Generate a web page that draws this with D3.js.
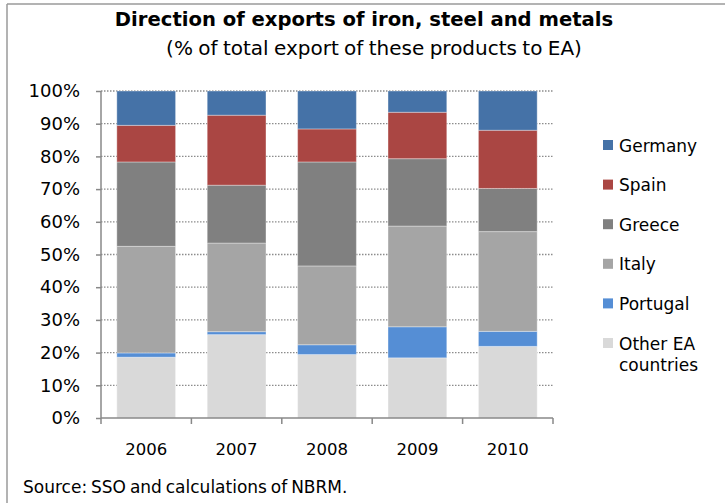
<!DOCTYPE html>
<html>
<head>
<meta charset="utf-8">
<script src="https://cdn.jsdelivr.net/npm/d3@7"></script>
<style>
  body { margin: 0; background: #fff; }
  text { font-family: "DejaVu Sans", Verdana, sans-serif; fill: #000; }
</style>
</head>
<body>
<div id="chart"></div>
<script>
// years on the x axis
var years = ["2006", "2007", "2008", "2009", "2010"];

// series, bottom to top (% of total)
var other    = [18.6, 25.5, 19.4, 18.4, 21.9];
var portugal = [1.3, 0.9, 3.0, 9.5, 4.6];
var italy    = [32.6, 27.1, 24.1, 30.8, 30.5];
var greece   = [25.8, 17.7, 31.8, 20.6, 13.2];
var spain    = [11.2, 21.4, 10.1, 14.2, 17.8];
var germany  = [10.5, 7.4, 11.6, 6.5, 12.0];

var seriesNames = ["Other EA countries", "Portugal", "Italy", "Greece", "Spain", "Germany"];
var seriesValues = [other, portugal, italy, greece, spain, germany];
var colors = ["#d9d9d9", "#558ed5", "#a5a5a5", "#808080", "#aa4643", "#4572a7"];

var yTicks = [0, 10, 20, 30, 40, 50, 60, 70, 80, 90, 100];

var svgWidth = 725, svgHeight = 503;

var svg = d3.select("#chart").append("svg")
  .attr("width", svgWidth)
  .attr("height", svgHeight);

// frame lines (top and left visible)
svg.append("line").attr("x1", 7).attr("x2", svgWidth).attr("y1", 4).attr("y2", 4)
  .attr("stroke", "#9a9a9a").attr("stroke-width", 1.5);
svg.append("line").attr("x1", 7).attr("x2", 7).attr("y1", 4).attr("y2", svgHeight)
  .attr("stroke", "#9a9a9a").attr("stroke-width", 1.5);

// titles
svg.append("text")
  .attr("x", 364).attr("y", 26)
  .attr("text-anchor", "middle")
  .attr("font-weight", "bold")
  .attr("font-size", 19.6)
  .text("Direction of exports of iron, steel and metals");

svg.append("text")
  .attr("x", 374).attr("y", 55)
  .attr("text-anchor", "middle")
  .attr("font-size", 20)
  .attr("word-spacing", -1)
  .text("(% of total export of these products to EA)");

var margin = { left: 101, top: 91 };
var chartWidth = 452, chartHeight = 327;

var g = svg.append("g")
  .attr("transform", "translate(" + margin.left + "," + margin.top + ")");

var x = d3.scaleBand()
  .domain(years)
  .range([0, chartWidth])
  .paddingInner(0.35)
  .paddingOuter(0.175);

var y = d3.scaleLinear()
  .domain([0, 100])
  .range([chartHeight, 0]);

// dotted gridlines
g.selectAll(".grid")
  .data(yTicks.slice(1))
  .enter()
  .append("line")
  .attr("x1", 0).attr("x2", chartWidth)
  .attr("y1", d => y(d)).attr("y2", d => y(d))
  .attr("stroke", "#8c8c8c")
  .attr("stroke-width", 1.3)
  .attr("stroke-dasharray", "1.5,1.5");

// stacked data
var table = years.map(function(yr, i) {
  var row = { year: yr };
  seriesNames.forEach(function(n, k) { row[n] = seriesValues[k][i]; });
  return row;
});
var stacked = d3.stack().keys(seriesNames)(table);

g.selectAll(".layer")
  .data(stacked)
  .enter()
  .append("g")
  .attr("fill", (d, i) => colors[i])
  .selectAll("rect")
  .data(d => d)
  .enter()
  .append("rect")
  .attr("x", d => x(d.data.year))
  .attr("y", d => y(d[1]))
  .attr("width", x.bandwidth())
  .attr("height", d => y(d[0]) - y(d[1]))
  .attr("stroke", "#ffffff")
  .attr("stroke-opacity", 0.35)
  .attr("stroke-width", 1);

// y axis
var yAxis = d3.axisLeft(y)
  .tickValues(yTicks)
  .tickFormat(d => d + "%")
  .tickSize(5)
  .tickPadding(16);

var yG = g.append("g").call(yAxis);
yG.select(".domain").attr("stroke", "#888").attr("stroke-width", 1.5).attr("d", "M0," + chartHeight + "V0");
yG.selectAll(".tick line").attr("stroke", "#888").attr("stroke-width", 1.5);
yG.selectAll("text").attr("font-size", 18).attr("font-family", "DejaVu Sans").attr("fill", "#000");

// x axis with ticks between categories
var xG = g.append("g")
  .attr("transform", "translate(0," + chartHeight + ")");
xG.append("line")
  .attr("x1", 0).attr("x2", chartWidth)
  .attr("stroke", "#888").attr("stroke-width", 1.5);
xG.selectAll(".xtick")
  .data(years.concat(["end"]))
  .enter()
  .append("line")
  .attr("x1", (d, i) => i * x.step()).attr("x2", (d, i) => i * x.step())
  .attr("y1", 0).attr("y2", 6)
  .attr("stroke", "#888").attr("stroke-width", 1.5);
xG.selectAll(".xlabel")
  .data(years)
  .enter()
  .append("text")
  .attr("x", d => x(d) + x.bandwidth() / 2)
  .attr("y", 37)
  .attr("text-anchor", "middle")
  .attr("font-size", 16.5)
  .text(d => d);

// legend, top item is Germany
var legendItems = seriesNames.map((n, i) => ({ name: n, color: colors[i] })).reverse();
var legend = svg.append("g").attr("transform", "translate(603,140)");
legendItems.forEach(function(item, i) {
  var lg = legend.append("g").attr("transform", "translate(0," + (i * 39.6) + ")");
  lg.append("rect").attr("width", 10).attr("height", 10).attr("fill", item.color);
  var t = lg.append("text").attr("x", 16).attr("y", 11.5).attr("font-size", 17);
  if (item.name === "Other EA countries") {
    t.append("tspan").attr("x", 16).text("Other EA");
    t.append("tspan").attr("x", 16).attr("dy", 21).text("countries");
  } else {
    t.text(item.name);
  }
});

// source
svg.append("text")
  .attr("x", 23).attr("y", 493)
  .attr("font-size", 17)
  .attr("word-spacing", -1.5)
  .text("Source: SSO and calculations of NBRM.");
</script>
</body>
</html>
